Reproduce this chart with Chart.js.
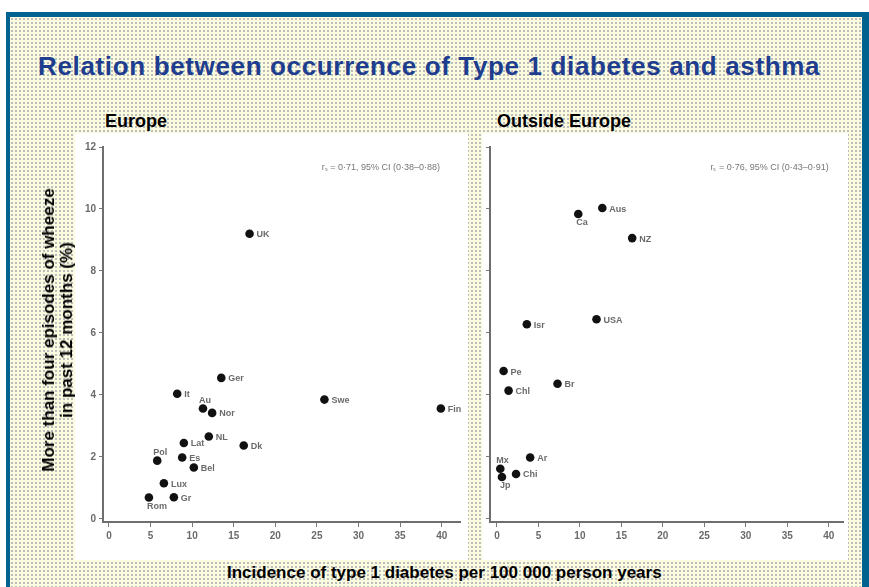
<!DOCTYPE html>
<html><head><meta charset="utf-8">
<script src="https://cdn.jsdelivr.net/npm/chart.js@4.4.1/dist/chart.umd.min.js"></script>
<style>
html,body{margin:0;padding:0;background:#fff;}
body{width:869px;height:587px;position:relative;overflow:hidden;font-family:"Liberation Sans",Arial,sans-serif;}
#frame{position:absolute;left:6px;top:12px;width:880px;height:600px;background:#00628f;}
#inner{position:absolute;left:10px;top:17px;width:852px;height:580px;background-color:#fbfbe0;
 background-image:radial-gradient(circle,#bdbdbd 0.9px,transparent 1.2px);background-size:4px 4px;}
.panel{position:absolute;background:#fff;top:133px;height:427px;}
#pl{left:75px;width:393px;}
#pr{left:482px;width:366px;}
canvas{position:absolute;left:0;top:0;}
#title{position:absolute;left:38px;top:51px;font-weight:bold;font-size:26px;color:#1e3d8f;white-space:nowrap;letter-spacing:0.65px;}
.sub{position:absolute;top:111px;font-weight:bold;font-size:18px;color:#000;white-space:nowrap;}
#ytitle{position:absolute;left:58px;top:330px;transform:translate(-50%,-50%) rotate(-90deg);font-weight:bold;font-size:17px;line-height:18px;color:#000;text-align:center;white-space:nowrap;}
#xtitle{position:absolute;left:227px;top:563px;font-weight:bold;font-size:17px;color:#000;white-space:nowrap;}
</style></head>
<body>
<div id="frame"></div>
<div id="inner"></div>
<div id="title">Relation between occurrence of Type 1 diabetes and asthma</div>
<div class="sub" style="left:105px">Europe</div>
<div class="sub" style="left:497px">Outside Europe</div>
<div class="panel" id="pl"><canvas id="cl" width="393" height="427"></canvas></div>
<div class="panel" id="pr"><canvas id="cr" width="366" height="427"></canvas></div>
<div id="ytitle">More than four episodes of wheeze<br>in past 12 months (%)</div>
<div id="xtitle">Incidence of type 1 diabetes per 100 000 person years</div>
<script>
// ---- data ----
const xTicks = [0,5,10,15,20,25,30,35,40];
const yTicks = [0,2,4,6,8,10,12];

const euroNames = ["UK","Ger","It","Au","Nor","Swe","Fin","NL","Lat","Dk","Pol","Es","Bel","Lux","Gr","Rom"];
const euroIncidence = [16.9,13.5,8.2,11.3,12.4,25.9,39.9,12.0,9.0,16.2,5.8,8.8,10.2,6.6,7.8,4.8];
const euroWheeze = [9.2,4.55,4.04,3.56,3.42,3.85,3.56,2.66,2.45,2.37,1.88,1.98,1.66,1.15,0.70,0.69];
const euroLabelSide = ["r","r","r","a","r","r","r","r","r","r","a","r","r","r","r","b"];
const euroStat = "r\u209B = 0\u00B771, 95% CI (0\u00B738\u20130\u00B788)";

const outNames = ["Ca","Aus","NZ","Isr","USA","Pe","Chl","Br","Ar","Mx","Jp","Chi"];
const outIncidence = [9.8,12.7,16.3,3.6,12.0,0.8,1.4,7.3,4.0,0.4,0.6,2.3];
const outWheeze = [9.84,10.03,9.06,6.28,6.44,4.77,4.14,4.36,1.98,1.62,1.35,1.45];
const outLabelSide = ["b","r","r","r","r","r","r","r","r","a","b","r"];
const outStat = "r\u209B = 0\u00B776, 95% CI (0\u00B743\u20130\u00B791)";

const FONT = '"Liberation Sans", Arial, sans-serif';

function makeLabelPlugin(names, sides, stat, statOffset){
  return {
    id:'lbl',
    afterDatasetsDraw(chart){
      const c = chart.ctx;
      const meta = chart.getDatasetMeta(0);
      c.save();
      c.fillStyle = '#6a6a6a';
      c.font = 'bold 9px ' + FONT;
      meta.data.forEach((pt,i)=>{
        const s = sides[i];
        if (s==='r'){ c.textAlign='left'; c.textBaseline='middle'; c.fillText(names[i], pt.x+7, pt.y+1); }
        else if (s==='a'){ c.textAlign='left'; c.textBaseline='bottom'; c.fillText(names[i], pt.x-4, pt.y-4); }
        else { c.textAlign='left'; c.textBaseline='top'; c.fillText(names[i], pt.x-2, pt.y+4); }
      });
      const a = chart.chartArea;
      c.font = '9px ' + FONT;
      c.textAlign='right'; c.textBaseline='middle';
      c.fillStyle = '#777';
      c.fillText(stat, a.right - statOffset, a.top + 21);
      c.restore();
    }
  };
}

function makeChart(id, xs, ys, names, sides, stat, opts){
  return new Chart(document.getElementById(id), {
    type:'scatter',
    data:{datasets:[{
      data: xs.map((x,i)=>({x:x, y:ys[i]})),
      backgroundColor:'#111', borderColor:'#111', pointRadius:4.3, pointHoverRadius:4.3, borderWidth:0
    }]},
    options:{
      animation:false, responsive:false, devicePixelRatio:1,
      layout:{padding:{top:14, right:opts.padRight, left:0, bottom:0}},
      plugins:{legend:{display:false}, tooltip:{enabled:false}},
      scales:{
        x:{type:'linear', min:opts.xmin, max:opts.xmax,
           afterBuildTicks:s=>{s.ticks = xTicks.map(v=>({value:v}));},
           afterFit:s=>{s.height = 38;},
           grid:{drawOnChartArea:false, drawTicks:true, tickLength:5, color:'#7a7a7a', lineWidth:1},
           border:{display:true, color:'#6e6e6e', width:2},
           ticks:{color:'#6a6a6a', font:{size:10, family:FONT, weight:'bold'}, padding:3, maxRotation:0, autoSkip:false}},
        y:{type:'linear', min:-0.1, max:12,
           afterBuildTicks:s=>{s.ticks = yTicks.map(v=>({value:v}));},
           afterFit:s=>{s.width = opts.yWidth;},
           grid:{drawOnChartArea:false, drawTicks:true, tickLength:4, color:'#7a7a7a', lineWidth:1},
           border:{display:true, color:'#6e6e6e', width:2},
           ticks:{display:opts.yLabels, color:'#6a6a6a', font:{size:10, family:FONT, weight:'bold'}, padding:3, autoSkip:false}}
      }
    },
    plugins:[makeLabelPlugin(names, sides, stat, opts.statOffset)]
  });
}

makeChart('cl', euroIncidence, euroWheeze, euroNames, euroLabelSide, euroStat,
  {xmin:-0.72, xmax:42.2, padRight:8, yWidth:28, yLabels:true, statOffset:20});
makeChart('cr', outIncidence, outWheeze, outNames, outLabelSide, outStat,
  {xmin:-0.84, xmax:41.8, padRight:3, yWidth:8, yLabels:false, statOffset:15});
</script>
</body></html>
